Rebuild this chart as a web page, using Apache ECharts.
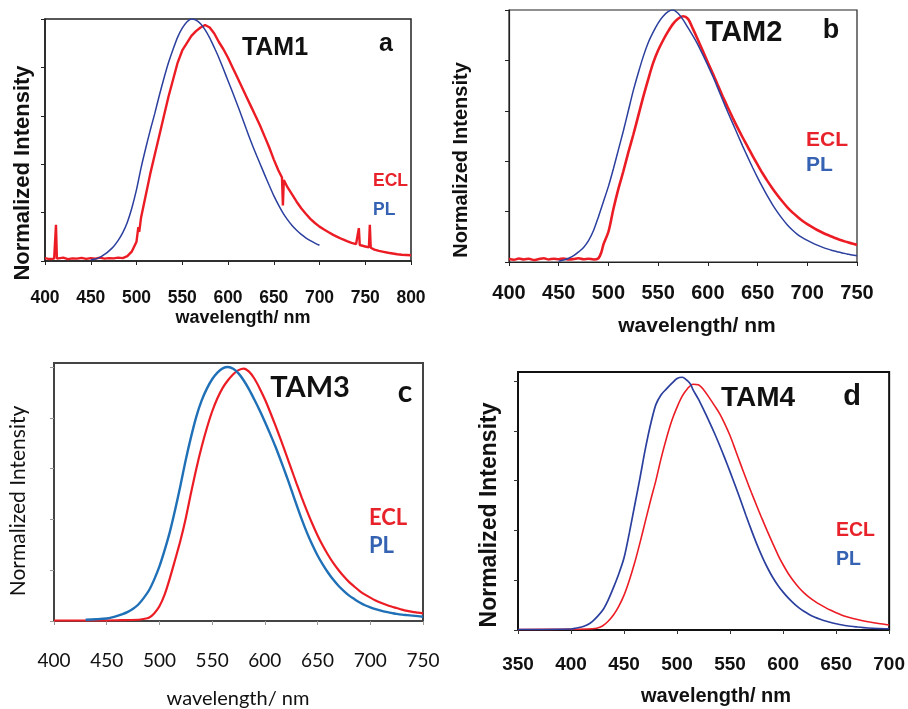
<!DOCTYPE html>
<html><head><meta charset="utf-8">
<script src="https://cdn.jsdelivr.net/npm/echarts@6/dist/echarts.min.js"></script>
<style>html,body{margin:0;padding:0;background:#fff}#c{width:908px;height:709px}</style>
</head><body><div id="c"></div>
<script>
// ---------- data ----------
const yTicks = [0, 0.2, 0.4, 0.6, 0.8, 1.0];

// TAM1 (a)
const tam1PlWl  = [450,455,460,465,470,475,480,485,490,495,500,505,510,515,520,525,530,535,540,545,550,555,560,565,570,575,580,585,590,595,600,605,610,615,620,625,630,635,640,645,650,655,660,665,670,675,680,685,690,695,700];
const tam1PlInt = [0.005,0.008,0.015,0.027,0.042,0.06,0.085,0.117,0.16,0.22,0.295,0.385,0.465,0.54,0.61,0.685,0.755,0.82,0.875,0.925,0.962,0.988,1.0,0.995,0.98,0.955,0.922,0.882,0.84,0.793,0.745,0.697,0.648,0.597,0.545,0.495,0.447,0.402,0.357,0.313,0.27,0.233,0.199,0.171,0.147,0.127,0.11,0.096,0.084,0.074,0.065];
const tam1EclWl  = [400,405,410,411,412,413,415,420,425,430,435,440,445,450,455,460,465,470,475,480,485,490,495,500,502,503,505,510,515,520,525,530,535,540,545,550,555,560,565,570,575,580,585,590,595,600,605,610,615,620,625,630,635,640,645,650,655,659,660,661,665,670,675,680,685,690,695,700,705,710,715,720,725,730,735,740,742,743,744,750,754,755,756,760,765,770,775,780,785,790,795,800];
const tam1EclInt = [0.012,0.008,0.01,0.012,0.15,0.01,0.009,0.014,0.008,0.011,0.01,0.013,0.009,0.012,0.01,0.014,0.01,0.012,0.011,0.014,0.012,0.02,0.04,0.08,0.14,0.12,0.18,0.27,0.36,0.44,0.52,0.60,0.68,0.75,0.82,0.87,0.90,0.93,0.95,0.965,0.975,0.965,0.94,0.905,0.875,0.84,0.80,0.76,0.72,0.68,0.64,0.60,0.56,0.515,0.47,0.42,0.375,0.345,0.23,0.335,0.305,0.275,0.245,0.218,0.195,0.174,0.157,0.142,0.13,0.119,0.108,0.099,0.09,0.082,0.075,0.07,0.068,0.136,0.066,0.06,0.056,0.15,0.055,0.047,0.042,0.038,0.034,0.031,0.028,0.026,0.025,0.024];

// TAM2 (b)
const tam2PlWl  = [450,455,460,465,470,475,480,485,490,495,500,505,510,515,520,525,530,535,540,545,550,555,560,565,570,575,580,585,590,595,600,605,610,615,620,625,630,635,640,645,650,655,660,665,670,675,680,685,690,695,700,705,710,715,720,725,730,735,740,745,750];
const tam2PlInt = [0.003,0.008,0.015,0.025,0.04,0.058,0.085,0.125,0.18,0.24,0.30,0.37,0.445,0.52,0.60,0.68,0.75,0.815,0.87,0.912,0.948,0.975,0.994,1.0,0.987,0.962,0.93,0.897,0.862,0.822,0.78,0.737,0.69,0.642,0.595,0.55,0.505,0.46,0.417,0.375,0.335,0.297,0.261,0.228,0.198,0.171,0.147,0.127,0.11,0.097,0.086,0.076,0.067,0.059,0.052,0.046,0.041,0.036,0.032,0.028,0.025];
const tam2EclWl  = [400,405,410,415,420,425,430,435,440,445,450,455,460,465,470,475,480,485,490,493,495,500,505,510,515,520,525,530,535,540,545,550,555,560,565,570,575,580,585,590,595,600,605,610,615,620,625,630,635,640,645,650,655,660,665,670,675,680,685,690,695,700,705,710,715,720,725,730,735,740,745,750];
const tam2EclInt = [0.012,0.009,0.014,0.01,0.013,0.008,0.012,0.015,0.01,0.013,0.011,0.014,0.01,0.012,0.015,0.011,0.013,0.01,0.015,0.04,0.07,0.12,0.21,0.29,0.36,0.435,0.505,0.58,0.655,0.725,0.79,0.84,0.88,0.915,0.945,0.965,0.975,0.965,0.925,0.882,0.837,0.792,0.748,0.702,0.657,0.614,0.572,0.532,0.494,0.458,0.421,0.386,0.352,0.321,0.292,0.265,0.24,0.217,0.197,0.18,0.164,0.15,0.138,0.127,0.117,0.108,0.1,0.092,0.085,0.079,0.073,0.068];

// TAM3 (c)
const tam3PlWl  = [430,440,450,455,460,465,470,475,480,485,490,495,500,505,510,515,520,525,530,535,540,545,550,555,560,565,570,575,580,585,590,595,600,605,610,615,620,625,630,635,640,645,650,655,660,665,670,675,680,685,690,695,700,705,710,715,720,725,730,735,740,745,750];
const tam3PlInt = [0.005,0.007,0.01,0.014,0.02,0.027,0.036,0.048,0.065,0.09,0.12,0.163,0.215,0.28,0.353,0.44,0.535,0.635,0.725,0.805,0.868,0.915,0.952,0.978,0.995,1.0,0.993,0.975,0.947,0.912,0.872,0.83,0.785,0.737,0.687,0.633,0.577,0.518,0.458,0.4,0.347,0.3,0.258,0.222,0.19,0.162,0.138,0.118,0.1,0.086,0.073,0.062,0.054,0.047,0.041,0.036,0.032,0.028,0.025,0.023,0.021,0.019,0.017];
const tam3EclWl  = [400,420,440,460,480,485,490,495,500,505,510,515,520,525,530,535,540,545,550,555,560,565,570,575,580,585,590,595,600,605,610,615,620,625,630,635,640,645,650,655,660,665,670,675,680,685,690,695,700,705,710,715,720,725,730,735,740,745,750];
const tam3EclInt = [0.002,0.002,0.002,0.003,0.005,0.008,0.013,0.03,0.058,0.105,0.17,0.243,0.318,0.405,0.505,0.6,0.685,0.76,0.825,0.877,0.918,0.948,0.972,0.988,0.994,0.982,0.955,0.917,0.873,0.823,0.77,0.715,0.658,0.6,0.542,0.486,0.433,0.383,0.337,0.296,0.26,0.228,0.2,0.175,0.153,0.135,0.118,0.104,0.092,0.081,0.072,0.064,0.057,0.051,0.045,0.04,0.036,0.033,0.03];

// TAM4 (d)
const tam4PlWl  = [350,400,405,410,415,420,425,430,435,440,445,450,455,460,465,470,475,480,485,490,495,500,505,510,513,515,520,525,530,535,540,545,550,555,560,565,570,575,580,585,590,595,600,605,610,615,620,625,630,635,640,645,650,660,670,680,690,700];
const tam4PlInt = [0.002,0.004,0.008,0.012,0.02,0.034,0.055,0.08,0.12,0.17,0.225,0.29,0.39,0.50,0.61,0.725,0.825,0.905,0.945,0.968,0.99,1.01,1.015,1.0,0.985,0.965,0.928,0.885,0.84,0.793,0.743,0.69,0.635,0.578,0.52,0.46,0.402,0.347,0.297,0.252,0.213,0.18,0.152,0.128,0.107,0.089,0.074,0.061,0.051,0.043,0.036,0.03,0.025,0.017,0.012,0.008,0.006,0.005];
const tam4EclWl  = [350,400,420,425,430,435,440,445,450,455,460,465,470,475,480,485,490,495,500,505,510,515,520,525,530,535,540,545,550,555,560,565,570,575,580,585,590,595,600,605,610,615,620,625,630,635,640,645,650,655,660,670,680,690,700];
const tam4EclInt = [0.002,0.003,0.005,0.008,0.017,0.035,0.06,0.095,0.14,0.2,0.27,0.35,0.435,0.52,0.60,0.69,0.77,0.84,0.895,0.94,0.97,0.987,0.985,0.965,0.935,0.903,0.87,0.828,0.78,0.723,0.665,0.608,0.553,0.5,0.448,0.398,0.35,0.303,0.262,0.226,0.196,0.17,0.148,0.13,0.115,0.102,0.09,0.079,0.069,0.06,0.053,0.042,0.033,0.026,0.02];

// ---------- chart ----------
const RED = '#ec1c24';
const BLUE = '#2b3f9e';
const BLUE_C = '#1f70b6';
const ECL_TXT = '#e8222a';
const PL_TXT = '#3562b2';
const ARIAL = '"Liberation Sans",Arial,sans-serif';
const LATO = 'Lato,"Open Sans",sans-serif';

const zip = (x, y) => x.map((v, i) => [v, y[i]]);

const panels = [
  { grid:{left:45, top:19, width:366, height:242}, xmin:400, xmax:800, ymax:1.0,
    frame:'#222', frameW:1.5, tickColor:'#222',
    labelFont:ARIAL, labelSize:17.5, labelWeight:'bold', labelMargin:28,
    pl:[tam1PlWl, tam1PlInt], ecl:[tam1EclWl, tam1EclInt], plColor:BLUE, plW:1.5, eclW:2.4, eclSmooth:false },
  { grid:{left:509, top:10, width:348, height:252}, xmin:400, xmax:750, ymax:1.0,
    frame:'#222', frameW:1.2, tickColor:'#222',
    labelFont:ARIAL, labelSize:20, labelWeight:'bold', labelMargin:21,
    pl:[tam2PlWl, tam2PlInt], ecl:[tam2EclWl, tam2EclInt], plColor:BLUE, plW:1.5, eclW:2.6, eclSmooth:0.3 },
  { grid:{left:54, top:363, width:369, height:258}, xmin:400, xmax:750, ymax:1.016,
    frame:'#444', frameW:2, tickColor:'#999',
    labelFont:LATO, labelSize:19, labelWeight:'normal', labelMargin:30,
    pl:[tam3PlWl, tam3PlInt], ecl:[tam3EclWl, tam3EclInt], plColor:BLUE_C, plW:2.4, eclW:2.2, eclSmooth:0.3 },
  { grid:{left:518, top:372, width:372, height:258}, xmin:350, xmax:700, ymax:1.036,
    frame:'#111', frameW:2, tickColor:'#333',
    labelFont:ARIAL, labelSize:19, labelWeight:'bold', labelMargin:25,
    pl:[tam4PlWl, tam4PlInt], ecl:[tam4EclWl, tam4EclInt], plColor:BLUE, plW:1.7, eclW:1.6, eclSmooth:0.3 }
];

const grid = [], xAxis = [], yAxis = [], series = [];
panels.forEach((p, i) => {
  grid.push(Object.assign({show:true, borderColor:p.frame, borderWidth:p.frameW, backgroundColor:'transparent'}, p.grid));
  xAxis.push({
    type:'value', gridIndex:i, min:p.xmin, max:p.xmax, interval:50,
    axisLine:{show:true, onZero:false, lineStyle:{color:p.frame, width:p.frameW}},
    axisTick:{show:true, length:4, lineStyle:{color:p.tickColor}},
    axisLabel:{fontFamily:p.labelFont, fontSize:p.labelSize, fontWeight:p.labelWeight, color:'#111', margin:p.labelMargin},
    splitLine:{show:false}
  });
  yAxis.push({
    type:'value', gridIndex:i, min:0, max:p.ymax, interval:0.2,
    axisLine:{show:true, onZero:false, lineStyle:{color:p.frame, width:p.frameW}},
    axisTick:{show:true, length:4, customValues:yTicks, lineStyle:{color:p.tickColor}},
    axisLabel:{show:false},
    splitLine:{show:false}
  });
  series.push({
    name:'ECL', type:'line', xAxisIndex:i, yAxisIndex:i, data:zip(p.ecl[0], p.ecl[1]),
    showSymbol:false, symbol:'none', smooth:p.eclSmooth, z:2,
    lineStyle:{color:RED, width:p.eclW}
  });
  series.push({
    name:'PL', type:'line', xAxisIndex:i, yAxisIndex:i, data:zip(p.pl[0], p.pl[1]),
    showSymbol:false, symbol:'none', smooth:0.3, z:3,
    lineStyle:{color:p.plColor, width:p.plW}
  });
});

function txt(text, x, y, font, size, weight, color, align, rot) {
  return { type:'text', x:x, y:y, rotation:rot || 0, z:100,
    style:{ text:text, fill:color, fontFamily:font, fontSize:size, fontWeight:weight,
      align:align || 'center', verticalAlign:'middle' } };
}

const graphic = [
  // panel a
  txt('Normalized Intensity', 23, 173, ARIAL, 22, 'bold', '#111', 'center', Math.PI/2),
  txt('wavelength/ nm', 243, 318, ARIAL, 18, 'bold', '#111'),
  txt('TAM1', 275, 48, ARIAL, 25, 'bold', '#111'),
  txt('a', 386, 44, ARIAL, 25, 'bold', '#111'),
  txt('ECL', 373, 181, ARIAL, 17.5, 'bold', ECL_TXT, 'left'),
  txt('PL', 373, 210, ARIAL, 17.5, 'bold', PL_TXT, 'left'),
  // panel b
  txt('Normalized Intensity', 461, 160, ARIAL, 20, 'bold', '#111', 'center', Math.PI/2),
  txt('wavelength/ nm', 697, 326, ARIAL, 21, 'bold', '#111'),
  txt('TAM2', 744, 33, ARIAL, 29, 'bold', '#111'),
  txt('b', 831, 31, ARIAL, 27, 'bold', '#111'),
  txt('ECL', 806, 140, ARIAL, 21, 'bold', ECL_TXT, 'left'),
  txt('PL', 806, 165, ARIAL, 21, 'bold', PL_TXT, 'left'),
  // panel c
  txt('Normalized Intensity', 18, 501, LATO, 21, 'normal', '#111', 'center', Math.PI/2),
  txt('wavelength/ nm', 238, 699, LATO, 20, 'normal', '#111'),
  txt('TAM3', 310, 388, LATO, 29, 'bold', '#111'),
  txt('c', 405, 392, LATO, 30, 'bold', '#111'),
  txt('ECL', 369, 518, LATO, 22, 'bold', ECL_TXT, 'left'),
  txt('PL', 369, 546, LATO, 22, 'bold', PL_TXT, 'left'),
  // panel d
  txt('Normalized Intensity', 490, 515, ARIAL, 23, 'bold', '#111', 'center', Math.PI/2),
  txt('wavelength/ nm', 716, 696, ARIAL, 20, 'bold', '#111'),
  txt('TAM4', 758, 398, ARIAL, 28, 'bold', '#111'),
  txt('d', 852, 397, ARIAL, 29, 'bold', '#111'),
  txt('ECL', 836, 531, ARIAL, 19.5, 'bold', ECL_TXT, 'left'),
  txt('PL', 836, 560, ARIAL, 19.5, 'bold', PL_TXT, 'left')
];

const chart = echarts.init(document.getElementById('c'), null, {renderer:'canvas'});
chart.setOption({ animation:false, backgroundColor:'#fff', grid, xAxis, yAxis, series, graphic });
</script></body></html>
